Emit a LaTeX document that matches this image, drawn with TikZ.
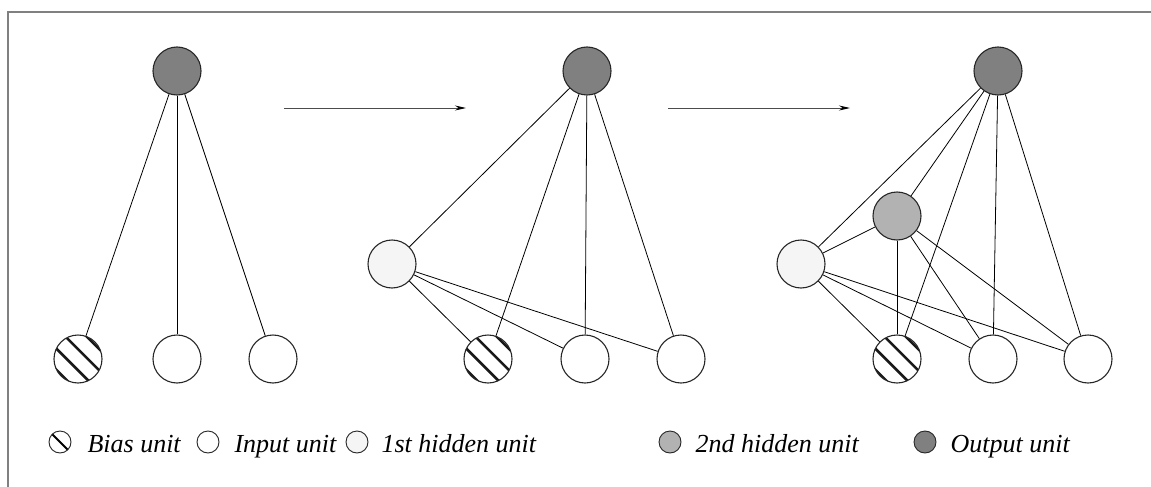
\documentclass[tikz,border=0pt]{standalone}
\usepackage{fontspec}
\setmainfont{Liberation Serif}
\usetikzlibrary{arrows.meta,calc}
\begin{document}
\begin{tikzpicture}[x=1pt,y=-1pt,
 unit/.style={circle,draw=black!85,line width=1.1pt,minimum size=48pt,inner sep=0pt},
 outunit/.style={unit,fill=black!50},
 hidA/.style={unit,fill=black!4},
 hidB/.style={unit,fill=black!30},
 inunit/.style={unit,fill=white},
 biasunit/.style={unit,fill=white,path picture={
   \foreach \d in {-23,-8,7,22}{
     \draw[line width=2.6pt,black!90] ($(path picture bounding box.center)+(\d*0.7071,-\d*0.7071)+(-40,-40)$) -- ++(80,80);}}},
 lg/.style={circle,draw=black!85,line width=0.9pt,minimum size=22pt,inner sep=0pt},
 lgbias/.style={lg,fill=white,path picture={
     \draw[line width=2pt,black] ($(path picture bounding box.center)+(-15,-15)$) -- ++(30,30);}},
 lgtext/.style={anchor=base west,font=\fontsize{26}{30}\selectfont\itshape},
 conn/.style={line width=0.8pt,black},
 flow/.style={line width=0.9pt,black!70,-{Stealth[length=11pt,width=5pt,black]}}
]
\useasboundingbox (0,0) rectangle (1151,487);
\draw[black!50,line width=2pt] (8,487) -- (8,12) -- (1151,12);

% panel 1
\node[outunit] (o1) at (177,71) {};
\node[biasunit] (b1) at (78,359) {};
\node[inunit] (i1a) at (177,359) {};
\node[inunit] (i1b) at (273,359) {};
\draw[conn] (o1) -- (b1);
\draw[conn] (o1) -- (i1a);
\draw[conn] (o1) -- (i1b);

% arrows
\coordinate (a1s) at (284,108);
\coordinate (a1e) at (466,108);
\coordinate (a2s) at (668,108);
\coordinate (a2e) at (850,108);
\draw[flow] (a1s) -- (a1e);
\draw[flow] (a2s) -- (a2e);

% panel 2
\node[outunit] (o2) at (587,71) {};
\node[hidA] (h2) at (392,264) {};
\node[biasunit] (b2) at (488,359) {};
\node[inunit] (i2a) at (585,359) {};
\node[inunit] (i2b) at (681,359) {};
\foreach \t in {h2,b2,i2a,i2b} \draw[conn] (o2) -- (\t);
\foreach \t in {b2,i2a,i2b} \draw[conn] (h2) -- (\t);

% panel 3
\node[outunit] (o3) at (998,71) {};
\node[hidA] (h3) at (801,264) {};
\node[hidB] (g3) at (897,216) {};
\node[biasunit] (b3) at (897,359) {};
\node[inunit] (i3a) at (993,359) {};
\node[inunit] (i3b) at (1088,359) {};
\foreach \t in {h3,g3,b3,i3a,i3b} \draw[conn] (o3) -- (\t);
\foreach \t in {g3,b3,i3a,i3b} \draw[conn] (h3) -- (\t);
\foreach \t in {b3,i3a,i3b} \draw[conn] (g3) -- (\t);

% legend
\node[lgbias] (lb) at (60,442) {};
\node[lgtext] (tb) at (84,452) {Bias unit};
\node[lg,fill=white] (li) at (208,442) {};
\node[lgtext] (ti) at (231,452) {Input unit};
\node[lg,fill=black!4] (lh) at (357,442) {};
\node[lgtext] (th) at (378,452) {1st hidden unit};
\node[lg,fill=black!30] (lg2) at (670,442) {};
\node[lgtext] (tg) at (692,452) {2nd hidden unit};
\node[lg,fill=black!50] (lo) at (925,442) {};
\node[lgtext] (to) at (947,452) {Output unit};
\end{tikzpicture}
\end{document}
